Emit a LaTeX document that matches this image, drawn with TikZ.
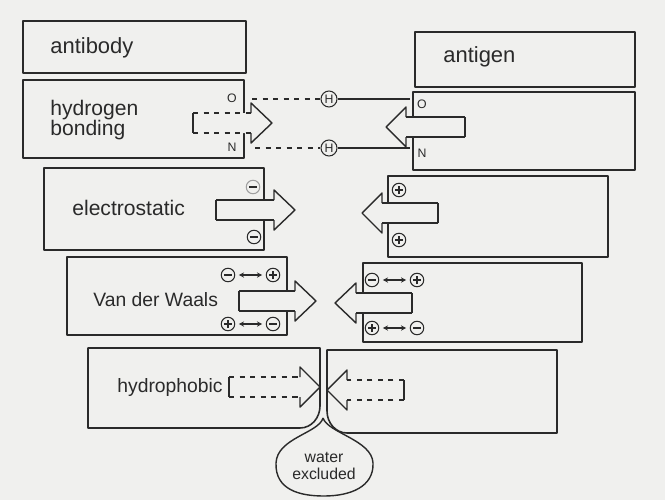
\documentclass[tikz,border=0pt]{standalone}
\usepackage{fontspec}
\setmainfont{Liberation Sans}
\usepackage{tikz}
\usetikzlibrary{arrows.meta, positioning, calc}
\definecolor{paper}{HTML}{F0F0EE}
\definecolor{ink}{HTML}{2A2A2A}

\begin{document}
\begin{tikzpicture}[x=0.02cm, y=-0.02cm, line join=round, ink,
    box/.style={draw=ink, line width=0.9pt},
    boxtop/.style={draw=ink, line width=1.5pt},
    fat/.style={draw=ink, line width=0.8pt},
    lbl/.style={font=\fontsize{12}{11.5}\selectfont, inner sep=0pt, align=left},
    atom/.style={font=\fontsize{7}{7}\selectfont, inner sep=0.5pt},
    hyd/.style={circle, draw=ink, line width=0.6pt, minimum size=0.32cm, inner sep=0pt, font=\fontsize{7}{7}\selectfont},
    chg/.style={circle, draw=ink, line width=0.6pt, minimum size=0.27cm, inner sep=0pt},
    minusion/.style={chg, path picture={\draw[ink, line width=0.6pt]
      ([xshift=-0.08cm]path picture bounding box.center) -- ([xshift=0.08cm]path picture bounding box.center);}},
    plusion/.style={chg, path picture={\draw[ink, line width=0.6pt]
      ([xshift=-0.08cm]path picture bounding box.center) -- ([xshift=0.08cm]path picture bounding box.center)
      ([yshift=-0.08cm]path picture bounding box.center) -- ([yshift=0.08cm]path picture bounding box.center);}},
    pair/.style={{Stealth[length=3pt,width=3pt]}-{Stealth[length=3pt,width=3pt]}, line width=0.6pt, shorten <=2pt, shorten >=2pt}]

  % Hintergrund
  \fill[paper] (0,0) rectangle (665,500);
  \useasboundingbox (0,0) rectangle (665,500);

  % Kaesten links und rechts
  \foreach \xa/\ya/\xb/\yb in {23/21/246/73, 415/32/635/87, 23/80/244/158, 413/92/635/170,
                               44/168/264/250, 388/176/608/257, 67/257/287/335, 363/263/582/342} {
    \draw[box] (\xa,\ya) rectangle (\xb,\yb);
    \draw[boxtop] (\xa,\ya) -- (\xb,\ya);
  }
  % hydrophob: abgerundete Ecken am Spalt
  \draw[box] (320,348) -- (88,348) -- (88,428) -- (300,428) to[out=0,in=-90] (320,406) -- cycle;
  \draw[boxtop] (88,348) -- (320,348);
  \draw[box] (327,350) -- (557,350) -- (557,433) -- (347,433) to[out=180,in=-90] (327,411) -- cycle;
  \draw[boxtop] (327,350) -- (557,350);

  % Blockpfeile (Schaft ueberdeckt die Kastenkante)
  \foreach \t/\b/\p/\y/\s in {193/251/272/123/dashed, 465/406/386/127/solid,
                              216/274/295/210/solid, 438/382/362/213/solid,
                              239/295/316/301/solid, 412/356/335/303/solid,
                              229/300/320/387/dashed, 404/347/327/390/dashed} {
    \fill[paper] (\t,\y-10) -- (\b,\y-10) -- (\b,\y-20) -- (\p,\y) -- (\b,\y+20)
                 -- (\b,\y+10) -- (\t,\y+10) -- cycle;
    \draw[fat] (\b,\y-10) -- (\b,\y-20) -- (\p,\y) -- (\b,\y+20) -- (\b,\y+10);
    \draw[fat] (\t,\y-10) -- (\t,\y+10);
    \draw[fat,\s] (\t,\y-10) -- (\b,\y-10) (\t,\y+10) -- (\b,\y+10);
  }

  % Beschriftungen
  \node[lbl, anchor=west, font=\fontsize{12.5}{12}\selectfont] (antibody) at (50,48) {antibody};
  \node[lbl, anchor=west, font=\fontsize{12.5}{12}\selectfont] (antigen) at (443,57) {antigen};
  \node[lbl, anchor=west] (hbond) at (50,120) {hydrogen\\bonding};
  \node[lbl, anchor=west] (elec) at (72,208) {electrostatic};
  \node[lbl, anchor=west, font=\fontsize{11}{11}\selectfont] (vdw) at (93,300) {Van der Waals};
  \node[lbl, anchor=west, font=\fontsize{11}{11}\selectfont] (hphob) at (117,387) {hydrophobic};

  % Wasserstoffbruecken
  \node[atom] (oL) at (232,98) {O};
  \node[atom] (nL) at (232,147) {N};
  \node[atom] (oR) at (422,104) {O};
  \node[atom] (nR) at (422,153) {N};
  \node[hyd] (h1) at (329,99) {H};
  \node[hyd] (h2) at (329,148) {H};
  \draw[dashed, line width=0.6pt] (h1.west -| 252,0) -- (h1.west);
  \draw[dashed, line width=0.6pt] (h2.west -| 255,0) -- (h2.west);
  \draw[line width=0.6pt] (h1.east) -- (h1.east -| 410,0);
  \draw[line width=0.6pt] (h2.east) -- (h2.east -| 410,0);

  % Ladungen
  \node[minusion, draw=ink!45] (e1) at (253,187) {};
  \node[minusion] (e2) at (254,237) {};
  \node[plusion] (e3) at (399,190) {};
  \node[plusion] (e4) at (399,240) {};

  \node[minusion] (a1) at (228,275) {};
  \node[plusion] (a2) at (273,275) {};
  \node[plusion] (a3) at (228,324) {};
  \node[minusion] (a4) at (273,324) {};
  \node[minusion] (b1) at (372,280) {};
  \node[plusion] (b2) at (417,280) {};
  \node[plusion] (b3) at (372,328) {};
  \node[minusion] (b4) at (417,328) {};
  \foreach \u/\v in {a1/a2, a3/a4, b1/b2, b3/b4}
    \draw[pair] (\u) -- (\v);

  % Wassertropfen
  \node[font=\fontsize{9}{10}\selectfont, align=center, inner sep=0pt] (water) at (324,466) {water\\excluded};
  \coordinate (cusp) at (323,418);
  \draw[fat] (cusp) .. controls (319,433) and (277,438) .. (276,463)
        .. controls (275,490) and (300,496) .. (324,496)
        .. controls (350,496) and (374,487) .. (373,463)
        .. controls (372,440) and (328,433) .. (cusp);
\end{tikzpicture}
\end{document}
